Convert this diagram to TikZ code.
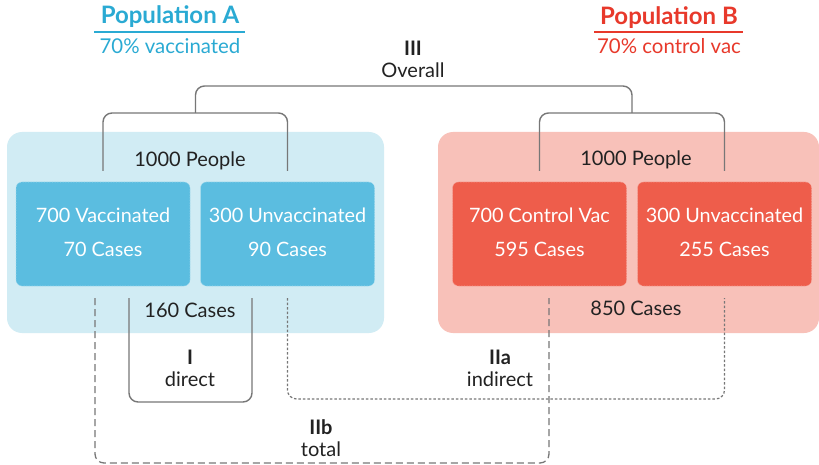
\documentclass[tikz,border=0pt]{standalone}
\usepackage{fontspec}
\setmainfont{Lato}
\definecolor{popA}{HTML}{2AAAD3}
\definecolor{popB}{HTML}{E8392B}
\definecolor{bgA}{HTML}{D1ECF4}
\definecolor{bgB}{HTML}{F8C1B9}
\definecolor{boxA}{HTML}{5BBDE0}
\definecolor{boxB}{HTML}{EE5D4B}
\definecolor{ink}{HTML}{222222}
\definecolor{linegray}{HTML}{777777}
\tikzset{
  bigbox/.style={rounded corners=15pt, minimum width=#1, minimum height=201pt, inner sep=0pt},
  subbox/.style={rounded corners=6pt, minimum width=174pt, minimum height=104pt, inner sep=0pt,
     draw=white!45!#1, densely dotted, line width=0.6pt, fill=#1},
  subtext/.style={text=white, font=\fontsize{19.8}{34}\selectfont, align=center, inner sep=0pt},
  lbl/.style={text=ink, font=\fontsize{20}{22}\selectfont, inner sep=0pt},
  brace/.style={draw=linegray, line width=1.4pt, rounded corners=9pt},
  title/.style={font=\bfseries\fontsize{24}{26}\selectfont, inner sep=0pt},
  subtitle/.style={font=\fontsize{20.4}{22}\selectfont, inner sep=0pt},
}
\begin{document}
\begin{tikzpicture}[x=1pt,y=-1pt]
\useasboundingbox (0,0) rectangle (819,465);
\fill[white] (0,0) rectangle (819,465);
% titles
\node[title, text=popA] (tA) at (170,17) {Population A};
\node[subtitle, text=popA] (sA) at (170,46) {70\% vaccinated};
\draw[popA, line width=1.3pt] (94,32) -- (245,32);
\node[title, text=popB] (tB) at (669,18) {Population B};
\node[subtitle, text=popB] (sB) at (669,46) {70\% control vac};
\draw[popB, line width=1.3pt] (594,32) -- (743,32);
% background boxes
\node[bigbox=377pt, fill=bgA] (A) at (195.5,232.5) {};
\node[bigbox=381pt, fill=bgB] (B) at (628.5,232.5) {};
% sub boxes
\node[subbox=boxA] (A1) at (103,234) {};
\node[subbox=boxA] (A2) at (287.5,234) {};
\node[subbox=boxB] (B1) at (539.5,234) {};
\node[subbox=boxB] (B2) at (724.5,234) {};
\node[subtext] (tA1) at (103,232) {700 Vaccinated\\70 Cases};
\node[subtext] (tA2) at (287.5,232) {300 Unvaccinated\\90 Cases};
\node[subtext] (tB1) at (539.5,232) {700 Control Vac\\595 Cases};
\node[subtext] (tB2) at (724.5,232) {300 Unvaccinated\\255 Cases};
% labels
\node[lbl] (pA) at (190,161) {1000 People};
\node[lbl] (pB) at (636,160) {1000 People};
\node[lbl] (cA) at (190,310) {160 Cases};
\node[lbl] (cB) at (636,308) {850 Cases};
\node[lbl, align=center] (III) at (413,59) {\textbf{III}\\Overall};
\node[lbl, align=center] (I) at (190,368) {\textbf{I}\\direct};
\node[lbl, align=center] (IIa) at (500,368) {\textbf{IIa}\\indirect};
\node[lbl, align=center] (IIb) at (321,438) {\textbf{IIb}\\total};
% top brackets
\draw[brace] (A1.center |- 0,171) -- (A1.center |- 0,113) -- (A2.center |- 0,113) -- (A2.center |- 0,171);
\draw[brace] (B1.center |- 0,171) -- (B1.center |- 0,113) -- (B2.center |- 0,113) -- (B2.center |- 0,171);
\draw[brace] (195.5,113) -- (195.5,86) -- (632,86) -- (632,113);
% bottom brackets
\draw[brace] (129,298) -- (129,402) -- (252,402) -- (252,298);
\draw[brace, line width=1.2pt, dash pattern=on 2.5pt off 2pt] (A2.center |- 0,298) -- (A2.center |- 0,399) -- (B2.center |- 0,399) -- (B2.center |- 0,298);
\draw[brace, line width=1.3pt, dash pattern=on 7pt off 4pt] (95,298) -- (95,463) -- (549,463) -- (549,298);
\end{tikzpicture}
\end{document}
